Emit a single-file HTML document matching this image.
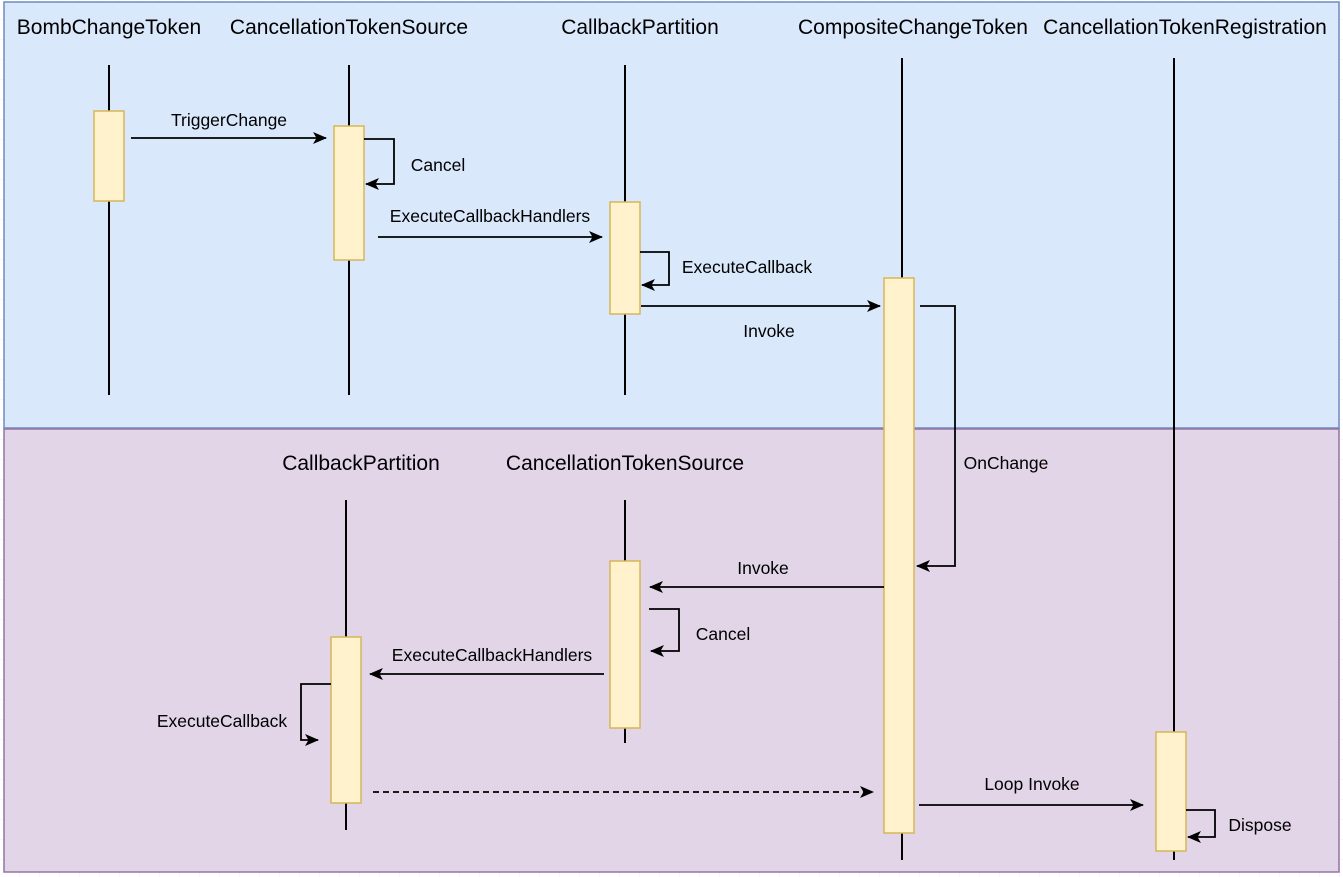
<!DOCTYPE html>
<html><head><meta charset="utf-8"><style>
html,body{margin:0;padding:0;background:#fff;width:1343px;height:877px;overflow:hidden}
svg text{font-family:"Liberation Sans",Arial,sans-serif;fill:#000}
</style></head><body>
<svg width="1343" height="877" viewBox="0 0 1343 877" xmlns="http://www.w3.org/2000/svg">
<defs>
<pattern id="g" width="20" height="20" patternUnits="userSpaceOnUse"><path d="M20 0V20H0" fill="none" stroke="#eee" stroke-width="1"/></pattern>
<marker id="a" markerWidth="14" markerHeight="12" refX="13" refY="6" orient="auto" markerUnits="userSpaceOnUse"><path d="M0,0 L14,6 L0,12 L3.5,6 Z" fill="#000"/></marker>
</defs>
<rect width="1343" height="877" fill="url(#g)"/>
<rect x="4" y="2" width="1335" height="426" fill="#dae8fc" stroke="#6c8ebf" stroke-width="1.5"/>
<rect x="4" y="429" width="1335" height="443" fill="#e1d5e7" stroke="#9673a6" stroke-width="1.5"/>
<g font-size="21" text-anchor="middle">
<text x="109" y="34">BombChangeToken</text>
<text x="349" y="34">CancellationTokenSource</text>
<text x="640" y="34">CallbackPartition</text>
<text x="913" y="34">CompositeChangeToken</text>
<text x="1185" y="34">CancellationTokenRegistration</text>
<text x="361" y="470">CallbackPartition</text>
<text x="625" y="470">CancellationTokenSource</text>
</g>
<g stroke="#000" stroke-width="2">
<line x1="109" y1="65" x2="109" y2="395"/>
<line x1="349" y1="65" x2="349" y2="395"/>
<line x1="625" y1="65" x2="625" y2="395"/>
<line x1="902" y1="58" x2="902" y2="860"/>
<line x1="1174" y1="58" x2="1174" y2="860"/>
<line x1="346" y1="500" x2="346" y2="830"/>
<line x1="625" y1="500" x2="625" y2="743"/>
</g>
<g fill="#fff2cc" stroke="#d6b656" stroke-width="1.5">
<rect x="94" y="111" width="30" height="90"/>
<rect x="334" y="126" width="30" height="134"/>
<rect x="610" y="202" width="30" height="112"/>
<rect x="884" y="278" width="30" height="555"/>
<rect x="1156" y="732" width="30" height="119"/>
<rect x="331" y="637" width="30" height="166"/>
<rect x="610" y="561" width="30" height="167"/>
</g>
<g stroke="#000" stroke-width="1.8" fill="none" marker-end="url(#a)">
<line x1="131" y1="138" x2="326" y2="138"/>
<path d="M364 139H394V184H366"/>
<line x1="378" y1="237" x2="602" y2="237"/>
<path d="M640 252H669V285H642"/>
<line x1="641" y1="306" x2="880" y2="306"/>
<path d="M920 306H955V566H917"/>
<line x1="884" y1="587" x2="650" y2="587"/>
<path d="M649 609H679V651H651"/>
<line x1="604" y1="674" x2="370" y2="674"/>
<path d="M331 684H301V740H318"/>
<line x1="373" y1="792" x2="873" y2="792" stroke-dasharray="6,4"/>
<line x1="919" y1="805" x2="1143" y2="805"/>
<path d="M1186 810H1215V837H1188"/>
</g>
<g font-size="17.5" text-anchor="middle">
<text x="229" y="126">TriggerChange</text>
<text x="438" y="171">Cancel</text>
<text x="490" y="222">ExecuteCallbackHandlers</text>
<text x="747" y="273">ExecuteCallback</text>
<text x="769" y="337">Invoke</text>
<text x="1006" y="469">OnChange</text>
<text x="763" y="574">Invoke</text>
<text x="723" y="640">Cancel</text>
<text x="492" y="661">ExecuteCallbackHandlers</text>
<text x="222" y="727">ExecuteCallback</text>
<text x="1032" y="790">Loop Invoke</text>
<text x="1260" y="831">Dispose</text>
</g>
</svg>
</body></html>
